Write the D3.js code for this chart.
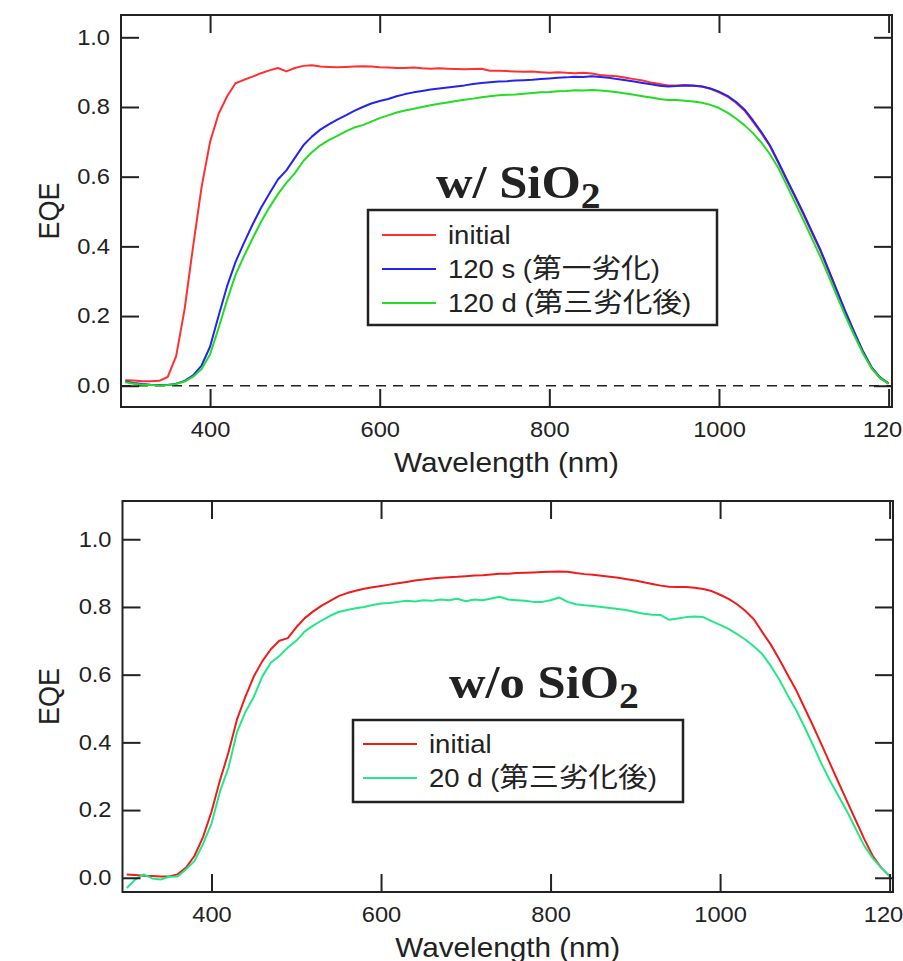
<!DOCTYPE html>
<html>
<head>
<meta charset="utf-8">
<script src="https://cdn.jsdelivr.net/npm/d3@7"></script>
<style>
body { margin: 0; background: #fff; }
text { font-family: "Liberation Sans", Arial, "Noto Sans CJK JP", sans-serif; fill: #222; }
text.title { font-family: "Liberation Serif", "Times New Roman", serif; font-weight: bold; }
</style>
</head>
<body>
<svg id="chart" width="903" height="961"></svg>
<script>
const wavelengths = [
  300, 310, 320, 330, 340, 350, 360, 370, 380, 390,
  400, 410, 420, 430, 440, 450, 460, 470, 480, 490,
  500, 510, 520, 530, 540, 550, 560, 570, 580, 590,
  600, 610, 620, 630, 640, 650, 660, 670, 680, 690,
  700, 710, 720, 730, 740, 750, 760, 770, 780, 790,
  800, 810, 820, 830, 840, 850, 860, 870, 880, 890,
  900, 910, 920, 930, 940, 950, 960, 970, 980, 990,
  1000, 1010, 1020, 1030, 1040, 1050, 1060, 1070, 1080, 1090,
  1100, 1110, 1120, 1130, 1140, 1150, 1160, 1170, 1180, 1190,
  1200];

// w/ SiO2
const topInitial = [
  0.016, 0.015, 0.013, 0.013, 0.014, 0.025, 0.085, 0.22, 0.40, 0.57,
  0.70, 0.78, 0.83, 0.868, 0.878, 0.887, 0.897, 0.905, 0.912, 0.902,
  0.912, 0.918, 0.92, 0.916, 0.915, 0.914, 0.915, 0.916, 0.917, 0.916,
  0.914, 0.913, 0.912, 0.912, 0.913, 0.911, 0.91, 0.911, 0.91, 0.909,
  0.908, 0.909, 0.91, 0.904, 0.904, 0.903, 0.902, 0.901, 0.902, 0.9,
  0.898, 0.9, 0.898, 0.897, 0.898, 0.896, 0.892, 0.89, 0.888, 0.884,
  0.88, 0.876, 0.87, 0.866, 0.862, 0.862, 0.863, 0.862, 0.859, 0.852,
  0.842, 0.83, 0.812, 0.79, 0.758, 0.725, 0.688, 0.64, 0.59, 0.54,
  0.49, 0.437, 0.385, 0.325, 0.265, 0.205, 0.15, 0.095, 0.05, 0.022,
  0.006];
const top120s = [
  0.012, 0.008, 0.005, 0.003, 0.002, 0.002, 0.006, 0.014, 0.03, 0.058,
  0.112, 0.2, 0.285, 0.355, 0.41, 0.462, 0.51, 0.552, 0.592, 0.618,
  0.654, 0.69, 0.715, 0.735, 0.75, 0.764, 0.776, 0.789, 0.8, 0.81,
  0.817, 0.823, 0.831, 0.837, 0.842, 0.846, 0.85, 0.853, 0.856, 0.859,
  0.862, 0.866, 0.869, 0.871, 0.873, 0.874, 0.876, 0.877, 0.878, 0.88,
  0.882, 0.884, 0.885, 0.887, 0.886, 0.888, 0.886, 0.884, 0.88, 0.877,
  0.873, 0.869, 0.865, 0.861, 0.859, 0.86, 0.862, 0.861, 0.859, 0.853,
  0.844, 0.832, 0.815, 0.793, 0.762, 0.728, 0.69, 0.642, 0.592, 0.543,
  0.493, 0.44, 0.388, 0.328, 0.268, 0.208, 0.152, 0.098, 0.053, 0.024,
  0.007];
const top120d = [
  0.01, 0.006, 0.003, 0.002, 0.001, 0.002, 0.005, 0.012, 0.026, 0.048,
  0.09, 0.165, 0.245, 0.318, 0.372, 0.422, 0.47, 0.512, 0.55, 0.582,
  0.61, 0.645, 0.67, 0.69, 0.705, 0.717, 0.73, 0.741, 0.748, 0.758,
  0.768, 0.776, 0.784, 0.79, 0.795, 0.8, 0.805, 0.809, 0.813, 0.817,
  0.821, 0.824, 0.828, 0.831, 0.834, 0.835, 0.836, 0.838, 0.84, 0.842,
  0.843, 0.845, 0.846, 0.848, 0.847, 0.849, 0.847, 0.845, 0.842, 0.839,
  0.835, 0.831, 0.827, 0.823, 0.82, 0.82, 0.818, 0.816, 0.812, 0.806,
  0.797, 0.784, 0.767, 0.748, 0.725, 0.698, 0.665, 0.625, 0.575, 0.524,
  0.473, 0.42, 0.368, 0.31, 0.252, 0.195, 0.142, 0.092, 0.05, 0.022,
  0.006];

// w/o SiO2
const bottomInitial = [
  0.01, 0.008, 0.006, 0.005, 0.004, 0.004, 0.01, 0.03, 0.065, 0.12,
  0.195, 0.288, 0.37, 0.467, 0.535, 0.595, 0.64, 0.675, 0.7, 0.708,
  0.74, 0.767, 0.787, 0.804, 0.818, 0.832, 0.841, 0.848, 0.854, 0.858,
  0.862, 0.866, 0.87, 0.874, 0.878, 0.881, 0.884, 0.886, 0.888, 0.889,
  0.891, 0.893, 0.894, 0.896, 0.898, 0.898, 0.9, 0.901, 0.902, 0.903,
  0.904, 0.905, 0.904, 0.9, 0.897, 0.895, 0.892, 0.889, 0.886, 0.882,
  0.878, 0.873, 0.868, 0.863, 0.86, 0.859, 0.859, 0.857, 0.853, 0.847,
  0.836, 0.824, 0.808, 0.788, 0.763, 0.725, 0.688, 0.645, 0.598, 0.553,
  0.5, 0.447, 0.392, 0.336, 0.28, 0.225, 0.17, 0.115, 0.065, 0.03,
  0.005];
const bottom20d = [
  -0.03, -0.005, 0.01, -0.002, -0.005, 0.003, 0.004, 0.025, 0.05, 0.1,
  0.16, 0.255, 0.325, 0.43, 0.49, 0.535, 0.595, 0.635, 0.655, 0.68,
  0.7, 0.728, 0.745, 0.76, 0.774, 0.785, 0.791, 0.796, 0.8, 0.806,
  0.81, 0.812, 0.815, 0.818, 0.816, 0.82, 0.818, 0.822, 0.82, 0.824,
  0.817, 0.822, 0.82, 0.825, 0.83, 0.822, 0.82, 0.818, 0.815, 0.815,
  0.82, 0.828, 0.815, 0.808, 0.805, 0.803, 0.8, 0.797, 0.794, 0.79,
  0.785, 0.78, 0.777, 0.776, 0.762, 0.766, 0.77, 0.772, 0.77, 0.758,
  0.747, 0.735, 0.72, 0.703, 0.683, 0.66, 0.625, 0.585, 0.538, 0.494,
  0.443, 0.39, 0.335, 0.285, 0.24, 0.195, 0.145, 0.095, 0.058, 0.03,
  0.005];

const xTicks = [400, 600, 800, 1000, 1200];
const yTicks = [0, 0.2, 0.4, 0.6, 0.8, 1.0];
const topLabels = ["initial", "120 s (第一劣化)", "120 d (第三劣化後)"];
const bottomLabels = ["initial", "20 d (第三劣化後)"];

const svg = d3.select("#chart");
const wide = "scale(1.1,1)";   // the reference is drawn a little wide

function addLabel(sel, str, latinSize, cjkSize) {
  str.split(/([\u3000-\u9fff]+)/).forEach(function(part) {
    if (!part) return;
    sel.append("tspan")
      .attr("font-size", /[\u3000-\u9fff]/.test(part) ? cjkSize : latinSize)
      .text(part);
  });
}

function drawPanel(p) {
  var x = d3.scaleLinear().domain([295, 1204]).range([p.left, p.right]);
  var y = d3.scaleLinear().domain(p.yDomain).range([p.bottom, p.top]);
  var g = svg.append("g");

  if (p.zeroLine) {
    g.append("line")
      .attr("x1", p.left).attr("x2", p.right)
      .attr("y1", y(0)).attr("y2", y(0))
      .attr("stroke", "#222").attr("stroke-width", 1.6)
      .attr("stroke-dasharray", "10,7");
  }

  var line = d3.line()
    .x(function(d, i) { return x(wavelengths[i]); })
    .y(function(d) { return y(d); });

  p.series.forEach(function(s) {
    g.append("path")
      .datum(s.values)
      .attr("fill", "none")
      .attr("stroke", s.color)
      .attr("stroke-width", 2)
      .attr("stroke-linejoin", "round")
      .attr("d", line);
  });

  // axes, ticks point inwards
  var axes = [
    {axis: d3.axisBottom(x).tickValues(xTicks).tickFormat(d3.format("d")).tickPadding(15), t: "translate(0," + p.bottom + ")"},
    {axis: d3.axisTop(x).tickValues(xTicks).tickFormat(""), t: "translate(0," + p.top + ")"},
    {axis: d3.axisLeft(y).tickValues(yTicks).tickFormat(d3.format(".1f")).tickPadding(10), t: "translate(" + p.left + ",0)"},
    {axis: d3.axisRight(y).tickValues(yTicks).tickFormat(""), t: "translate(" + p.right + ",0)"}
  ];
  axes.forEach(function(a) {
    var ag = g.append("g")
      .attr("transform", a.t)
      .attr("color", "#222")
      .call(a.axis.tickSize(-18));
    ag.attr("font-size", 21.5);
    ag.select(".domain").remove();
    ag.selectAll(".tick line").attr("stroke-width", 2);
    ag.selectAll(".tick text").attr("transform", wide).attr("fill", "#222");
  });

  g.append("rect")
    .attr("x", p.left).attr("y", p.top)
    .attr("width", p.right - p.left).attr("height", p.bottom - p.top)
    .attr("fill", "none").attr("stroke", "#222").attr("stroke-width", 2);

  // axis titles
  g.append("text")
    .attr("transform", "translate(" + ((p.left + p.right) / 2) + "," + (p.bottom + 65) + ") " + wide)
    .attr("text-anchor", "middle")
    .attr("font-size", 27)
    .text("Wavelength (nm)");

  g.append("text")
    .attr("transform", "translate(59," + ((p.top + p.bottom) / 2) + ") rotate(-90) scale(1,1.1)")
    .attr("text-anchor", "middle")
    .attr("font-size", 27)
    .text("EQE");

  // panel title
  var title = g.append("text")
    .attr("class", "title")
    .attr("transform", "translate(" + p.titleX + "," + p.titleY + ") " + wide)
    .attr("font-size", 46);
  title.append("tspan").text(p.title);
  title.append("tspan").attr("font-size", 36).attr("dy", 10).text("2");

  // legend
  var lg = p.legend;
  g.append("rect")
    .attr("x", lg.x).attr("y", lg.y)
    .attr("width", lg.w).attr("height", lg.h)
    .attr("fill", "#fff").attr("stroke", "#222").attr("stroke-width", 2.5);
  p.series.forEach(function(s, i) {
    var ly = lg.y + lg.first + i * lg.step;
    g.append("line")
      .attr("x1", lg.x + lg.pad).attr("x2", lg.x + lg.pad + 54)
      .attr("y1", ly).attr("y2", ly)
      .attr("stroke", s.color).attr("stroke-width", 2.2);
    var t = g.append("text")
      .attr("transform", "translate(" + (lg.x + lg.pad + 66) + "," + (ly + 9) + ") " + wide);
    addLabel(t, s.label, 25, 27);
  });
}

drawPanel({
  left: 121, right: 892, top: 15, bottom: 407,
  yDomain: [-0.061, 1.064],
  zeroLine: true,
  title: "w/ SiO", titleX: 436, titleY: 198,
  legend: {x: 368, y: 210, w: 349, h: 115, pad: 14, first: 25, step: 34},
  series: [
    {values: topInitial, color: "#ff3030", label: topLabels[0]},
    {values: top120s, color: "#2424f0", label: topLabels[1]},
    {values: top120d, color: "#22dd22", label: topLabels[2]}
  ]
});

drawPanel({
  left: 122.5, right: 893, top: 501, bottom: 892,
  yDomain: [-0.042, 1.113],
  zeroLine: false,
  title: "w/o SiO", titleX: 449, titleY: 698,
  legend: {x: 353, y: 720, w: 330, h: 82, pad: 10, first: 24, step: 34},
  series: [
    {values: bottomInitial, color: "#ee1c1c", label: bottomLabels[0]},
    {values: bottom20d, color: "#22e887", label: bottomLabels[1]}
  ]
});
</script>
</body>
</html>
